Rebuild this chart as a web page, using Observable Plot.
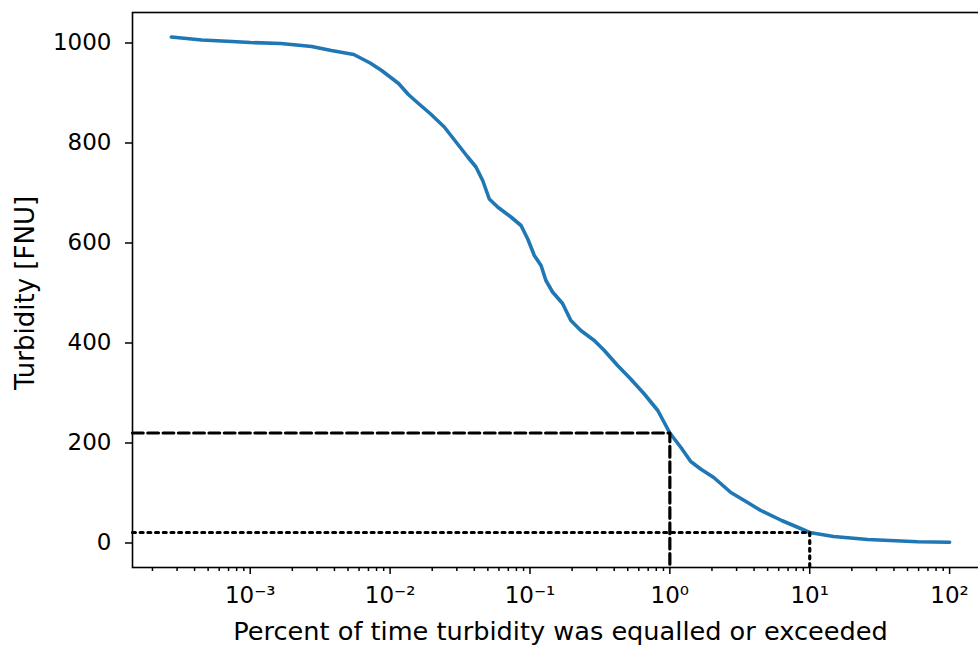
<!DOCTYPE html>
<html><head><meta charset="utf-8">
<script src="https://cdn.jsdelivr.net/npm/d3@7"></script>
<script src="https://cdn.jsdelivr.net/npm/@observablehq/plot@0.6"></script>
<style>
html,body{margin:0;padding:0;background:#fff;overflow:hidden;}
#chart{width:978px;height:646px;overflow:hidden;}
#chart svg{overflow:hidden;}
</style></head><body><div id="chart"></div>
<script>
// Percent of time turbidity was equalled or exceeded
const pct = [2.73e-4, 4.5e-4, 7.4e-4, 1.0e-3, 1.66e-3, 2.75e-3, 3.8e-3, 5.5e-3, 7.2e-3, 8.7e-3,
  1.15e-2, 1.35e-2, 1.58e-2, 1.95e-2, 0.0244, 0.0296, 0.0359, 0.0411, 0.0459, 0.0512,
  0.0587, 0.0731, 0.0863, 0.0964, 0.1074, 0.120, 0.130, 0.145, 0.171, 0.196,
  0.231, 0.288, 0.340, 0.423, 0.525, 0.652, 0.820, 1.0, 1.2, 1.41,
  1.66, 2.06, 2.73, 3.55, 4.47, 6.3, 8.6, 10, 14.8, 26,
  59, 100];
// Turbidity [FNU]
const turb = [1012, 1006, 1003, 1001, 999, 993, 985, 977, 960, 945,
  919, 897, 880, 858, 832, 802, 772, 752, 725, 688,
  672, 652, 635, 608, 575, 555, 525, 502, 479, 445,
  425, 405, 385, 355, 328, 299, 265, 220, 191, 163,
  148, 131, 101, 82, 65, 45, 29, 21, 13, 7,
  2.5, 1.5];

const xDomain = [1.44e-4, 189.7];
const yDomain = [-49, 1061];

const majorTicks = [1e-3, 1e-2, 1e-1, 1, 10, 100];
const majorLabels = ["10\u207B\u00B3", "10\u207B\u00B2", "10\u207B\u00B9", "10\u2070", "10\u00B9", "10\u00B2"];
const yTicks = [0, 200, 400, 600, 800, 1000];
const xLabel = "Percent of time turbidity was equalled or exceeded";
const yLabel = "Turbidity [FNU]";

// reference thresholds
const dashedRef = {p: 1, t: 220};
const dottedRef = {p: 10, t: 21};

const minorTicks = [];
for (let e = -4; e <= 2; e++) for (let k = 2; k <= 9; k++) {
  const v = k * Math.pow(10, e);
  if (v > xDomain[0] && v < xDomain[1]) minorTicks.push(v);
}

const data = pct.map((p, i) => ({p, t: turb[i]}));
const elbow = r => [{p: xDomain[0], t: r.t}, {p: r.p, t: r.t}, {p: r.p, t: yDomain[0]}];

const chart = Plot.plot({
  width: 978, height: 646,
  marginLeft: 132, marginRight: -10, marginTop: 12, marginBottom: 79,
  style: {fontFamily: "DejaVu Sans", fontSize: "23px", color: "black", background: "white", overflow: "hidden"},
  x: {type: "log", domain: xDomain},
  y: {domain: yDomain},
  marks: [
    Plot.axisX({ticks: minorTicks, tickSize: 4, strokeWidth: 1.5, tickFormat: () => "", label: null}),
    Plot.axisX({ticks: majorTicks, tickSize: 7, tickPadding: 12, strokeWidth: 1.5,
      tickFormat: d => majorLabels[majorTicks.indexOf(d)], label: null}),
    Plot.axisY({ticks: yTicks, tickSize: 7, tickPadding: 14, strokeWidth: 1.5,
      tickFormat: d => String(d), label: null}),
    Plot.text([xLabel], {text: d => d, frameAnchor: "bottom", dy: 64, lineAnchor: "middle", textAnchor: "middle", fontSize: 25.6}),
    Plot.text([yLabel], {text: d => d, frameAnchor: "left", dx: -107, dy: 3, rotate: -90, lineAnchor: "middle", textAnchor: "middle", fontSize: 26}),
    Plot.line(data, {x: "p", y: "t", stroke: "#1f77b4", strokeWidth: 3.6, strokeLinejoin: "round"}),
    Plot.line(elbow(dashedRef), {x: "p", y: "t", stroke: "black", strokeWidth: 3.2, strokeDasharray: "10.7,4.6"}),
    Plot.line(elbow(dottedRef), {x: "p", y: "t", stroke: "black", strokeWidth: 3.2, strokeDasharray: "2.9,4.8"}),
    Plot.frame({stroke: "black", strokeWidth: 1.6})
  ]
});
document.getElementById("chart").appendChild(chart);
</script></body></html>
